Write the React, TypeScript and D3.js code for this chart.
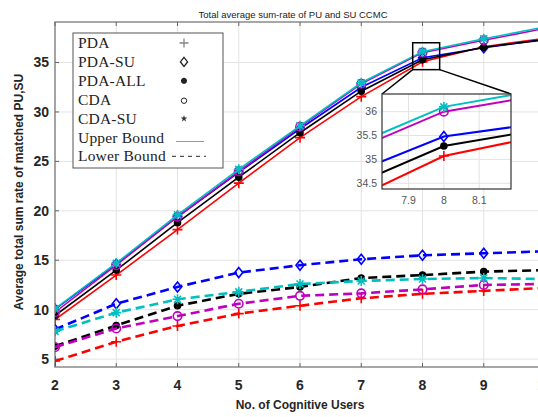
import React from 'react';
import * as d3 from 'd3';

// number of cognitive users
const users = [2, 3, 4, 5, 6, 7, 8, 9, 10];

const seriesNames = ['PDA', 'PDA-SU', 'PDA-ALL', 'CDA', 'CDA-SU'];
const seriesColors = ['#ff0000', '#0000ff', '#000000', '#bf00bf', '#00bfbf'];
const seriesMarkers = ['plus', 'diamond', 'dot', 'circle', 'star'];

// upper bound (solid)
const upperPDA = [9.0, 13.5, 18.1, 22.8, 27.4, 31.55, 35.07, 36.6, 37.45];
const upperPDASU = [10.05, 14.6, 19.4, 23.9, 28.3, 32.5, 35.48, 36.5, 37.35];
const upperPDAALL = [9.4, 14.0, 18.8, 23.4, 27.9, 32.1, 35.28, 36.55, 37.3];
const upperCDA = [9.75, 14.5, 19.4, 24.0, 28.5, 32.85, 36.0, 37.25, 38.45];
const upperCDASU = [10.1, 14.7, 19.6, 24.2, 28.6, 32.95, 36.1, 37.4, 38.6];

// lower bound (dashed)
const lowerPDA = [4.8, 6.75, 8.35, 9.6, 10.4, 11.15, 11.6, 11.9, 12.2];
const lowerPDASU = [8.0, 10.6, 12.3, 13.75, 14.5, 15.1, 15.5, 15.7, 15.9];
const lowerPDAALL = [6.3, 8.4, 10.4, 11.6, 12.3, 13.2, 13.5, 13.85, 14.0];
const lowerCDA = [6.2, 8.1, 9.35, 10.6, 11.4, 11.65, 12.05, 12.5, 12.6];
const lowerCDASU = [7.8, 9.7, 11.05, 11.8, 12.6, 12.9, 13.1, 13.2, 13.1];

const upperSeries = [upperPDA, upperPDASU, upperPDAALL, upperCDA, upperCDASU];
const lowerSeries = [lowerPDA, lowerPDASU, lowerPDAALL, lowerCDA, lowerCDASU];

const xTicks = [2, 3, 4, 5, 6, 7, 8, 9, 10];
const yTicks = [5, 10, 15, 20, 25, 30, 35];

// zoomed region
const zoomX = [7.825, 8.19];
const zoomY = [34.38, 36.37];
const zoomBoxX = [7.84, 8.28];
const zoomBoxY = [34.28, 37.0];
const insetXTicks = [7.9, 8, 8.1];
const insetYTicks = [34.5, 35, 35.5, 36];

const W = 538;
const H = 417;

function markerPath(type: string, s: number) {
  switch (type) {
    case 'plus':
      return `M${-s},0H${s}M0,${-s}V${s}`;
    case 'diamond':
      return `M0,${-s}L${s * 0.8},0L0,${s}L${-s * 0.8},0Z`;
    case 'circle':
      return `M${s},0A${s},${s} 0 1,1 ${-s},0A${s},${s} 0 1,1 ${s},0`;
    case 'dot':
      return `M${s},0A${s},${s} 0 1,1 ${-s},0A${s},${s} 0 1,1 ${s},0Z`;
    case 'star': {
      const d = s * 0.7;
      return `M${-s},0H${s}M0,${-s}V${s}M${-d},${-d}L${d},${d}M${-d},${d}L${d},${-d}`;
    }
  }
  return '';
}

function Marker({ type, x, y, color, size, width = 1.6 }: any) {
  const s = type === 'dot' ? size * 0.6 : type === 'circle' ? size * 0.85 : size;
  return (
    <path
      d={markerPath(type, s)}
      transform={`translate(${x},${y})`}
      fill={type === 'dot' ? color : 'none'}
      stroke={color}
      strokeWidth={width}
    />
  );
}

export default function App() {
  const x = d3.scaleLinear().domain([2, 10]).range([55, 545]);
  const y = d3.scaleLinear().domain([4.2, 39.1]).range([367, 22]);

  const line = d3
    .line<number>()
    .x((d, i) => x(users[i]))
    .y((d) => y(d));

  // inset
  const ix = d3.scaleLinear().domain(zoomX).range([382, 511]);
  const iy = d3.scaleLinear().domain(zoomY).range([189, 94]);
  const iline = d3
    .line<number>()
    .x((d, i) => ix(users[i]))
    .y((d) => iy(d));

  const [px0, px1] = x.range();
  const [py0, py1] = y.range();

  const bx0 = x(zoomBoxX[0]);
  const bx1 = x(zoomBoxX[1]);
  const by0 = y(zoomBoxY[1]);
  const by1 = y(zoomBoxY[0]);

  const legendRows = [0, 1, 2, 3, 4, 5, 6].map((i) => 43 + i * 18.9);
  const legendStar = d3.symbol(d3.symbolStar, 14)() || '';

  return (
    <svg
      width={W}
      height={H}
      style={{ position: 'absolute', left: 0, top: 0, background: '#fff' }}
      fontFamily="'Liberation Sans', Arial, sans-serif"
    >
      <defs>
        <clipPath id="plotClip">
          <rect x={px0} y={py1} width={px1 - px0} height={py0 - py1} />
        </clipPath>
        <clipPath id="insetClip">
          <rect x={382} y={94} width={129} height={95} />
        </clipPath>
      </defs>

      <rect width={W} height={H} fill="#fff" />

      {/* title */}
      <text x={293} y={18} textAnchor="middle" fontSize={9.5} fill="#222">
        Total average sum-rate of PU and SU CCMC
      </text>

      {/* grid */}
      {xTicks.map((t) => (
        <line key={'gx' + t} x1={x(t)} x2={x(t)} y1={py0} y2={py1} stroke="#e3e3e3" strokeWidth={1} />
      ))}
      {yTicks.map((t) => (
        <line key={'gy' + t} x1={px0} x2={px1} y1={y(t)} y2={y(t)} stroke="#e3e3e3" strokeWidth={1} />
      ))}

      {/* axes box */}
      <rect x={px0} y={py1} width={px1 - px0} height={py0 - py1} fill="none" stroke="#8a8a8a" strokeWidth={1.5} />
      {xTicks.map((t) => (
        <g key={'tx' + t}>
          <line x1={x(t)} x2={x(t)} y1={py0} y2={py0 - 4} stroke="#666" />
          <line x1={x(t)} x2={x(t)} y1={py1} y2={py1 + 4} stroke="#666" />
          <text x={x(t)} y={390} textAnchor="middle" fontSize={14} fontWeight="bold" fill="#262626">
            {t}
          </text>
        </g>
      ))}
      {yTicks.map((t) => (
        <g key={'ty' + t}>
          <line x1={px0} x2={px0 + 4} y1={y(t)} y2={y(t)} stroke="#666" />
          <text x={49} y={y(t)} dy="0.35em" textAnchor="end" fontSize={14} fontWeight="bold" fill="#262626">
            {t}
          </text>
        </g>
      ))}

      <text x={300} y={409} textAnchor="middle" fontSize={12} fontWeight="bold" fill="#262626">
        No. of Cognitive Users
      </text>
      <text
        transform={`translate(23,192) rotate(-90)`}
        textAnchor="middle"
        fontSize={12}
        fontWeight="bold"
        fill="#262626"
      >
        Average total sum rate of matched PU,SU
      </text>

      {/* data */}
      <g clipPath="url(#plotClip)">
        {lowerSeries.map((s, k) => (
          <g key={'lo' + k}>
            <path d={line(s) || ''} fill="none" stroke={seriesColors[k]} strokeWidth={2.6} strokeDasharray="9,5" />
            {s.map((v, i) => (
              <Marker key={i} type={seriesMarkers[k]} x={x(users[i])} y={y(v)} color={seriesColors[k]} size={5} />
            ))}
          </g>
        ))}
        {upperSeries.map((s, k) => (
          <g key={'up' + k}>
            <path d={line(s) || ''} fill="none" stroke={seriesColors[k]} strokeWidth={1.6} />
            {s.map((v, i) => (
              <Marker key={i} type={seriesMarkers[k]} x={x(users[i])} y={y(v)} color={seriesColors[k]} size={5} />
            ))}
          </g>
        ))}
      </g>

      {/* zoom box + connectors */}
      <rect x={bx0} y={by0} width={bx1 - bx0} height={by1 - by0} fill="none" stroke="#000" strokeWidth={1.5} />
      <line x1={bx0} y1={by1} x2={ix.range()[0]} y2={iy.range()[1]} stroke="#000" strokeWidth={1.5} />
      <line x1={bx1} y1={by1} x2={ix.range()[1]} y2={iy.range()[1]} stroke="#000" strokeWidth={1.5} />

      {/* inset */}
      <rect x={382} y={94} width={129} height={95} fill="#fff" />
      {insetXTicks.map((t) => (
        <g key={'ix' + t}>
          <line x1={ix(t)} x2={ix(t)} y1={94} y2={189} stroke="#e3e3e3" />
          <text x={ix(t)} y={204} textAnchor="middle" fontSize={10.5} fill="#555">
            {t}
          </text>
        </g>
      ))}
      {insetYTicks.map((t) => (
        <g key={'iy' + t}>
          <line x1={382} x2={511} y1={iy(t)} y2={iy(t)} stroke="#e3e3e3" />
          <text x={377} y={iy(t)} dy="0.35em" textAnchor="end" fontSize={10.5} fill="#555">
            {t}
          </text>
        </g>
      ))}
      <g clipPath="url(#insetClip)">
        {upperSeries.map((s, k) => (
          <g key={'in' + k}>
            <path d={iline(s) || ''} fill="none" stroke={seriesColors[k]} strokeWidth={2} />
            {s.map((v, i) => (
              <Marker key={i} type={seriesMarkers[k]} x={ix(users[i])} y={iy(v)} color={seriesColors[k]} size={5} />
            ))}
          </g>
        ))}
      </g>
      <rect x={382} y={94} width={129} height={95} fill="none" stroke="#333" strokeWidth={1.2} />

      {/* legend */}
      <rect x={73} y={33} width={150} height={135} fill="#fff" stroke="#555" strokeWidth={1} />
      {seriesNames.concat(['Upper Bound', 'Lower Bound']).map((n, i) => (
        <text
          key={n}
          x={78}
          y={legendRows[i] + 5}
          fontFamily="'Liberation Serif', 'Times New Roman', serif"
          fontSize={15.5}
          letterSpacing={0.2}
          fill="#222"
        >
          {n}
        </text>
      ))}
      {seriesMarkers.map((m, i) =>
        m === 'star' ? (
          <path key={'lm' + m} d={legendStar} transform={`translate(184,${legendRows[i]})`} fill="#333" />
        ) : (
          <Marker
            key={'lm' + m}
            type={m}
            x={184}
            y={legendRows[i] + (m === 'circle' ? 1 : 0)}
            color={m === 'plus' ? '#888' : '#222'}
            size={m === 'dot' ? 4 : m === 'circle' ? 3.2 : 4.5}
            width={m === 'circle' ? 1 : 1.3}
          />
        )
      )}
      <line x1={176} x2={204} y1={legendRows[5] + 4} y2={legendRows[5] + 4} stroke="#999" strokeWidth={1} />
      <line
        x1={172}
        x2={206}
        y1={legendRows[6]}
        y2={legendRows[6]}
        stroke="#555"
        strokeWidth={1.2}
        strokeDasharray="4,4"
      />
    </svg>
  );
}
